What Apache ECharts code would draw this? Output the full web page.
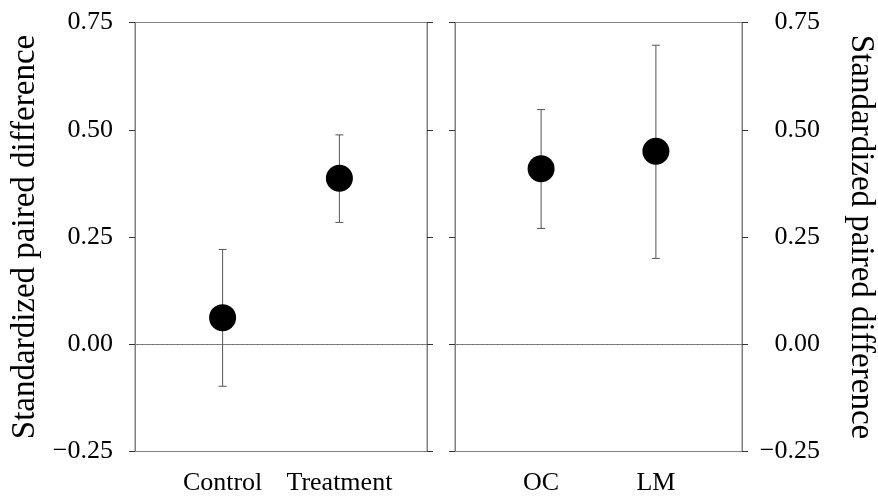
<!DOCTYPE html>
<html><head><meta charset="utf-8">
<script src="https://cdn.jsdelivr.net/npm/echarts@6/dist/echarts.min.js"></script>
<style>html,body{margin:0;padding:0;background:#fff}#c{width:878px;height:500px}</style>
</head><body><div id="c"></div>
<script>
// Left panel
const leftCats = ['Control', 'Treatment'];
const leftMean = [0.062, 0.387];
const leftLow = [-0.098, 0.284];
const leftHigh = [0.221, 0.488];
// Right panel
const rightCats = ['OC', 'LM'];
const rightMean = [0.409, 0.450];
const rightLow = [0.270, 0.200];
const rightHigh = [0.547, 0.697];
// Axis
const yMin = -0.25, yMax = 0.75, yStep = 0.25;
const refLine = [0];
const yTitle = 'Standardized paired difference';

const FONT = 'Liberation Serif';
const LINE = '#808080';
const TICK = '#333';

function padCats(c) { return ['', c[0], ' ', c[1], '  ']; }

function xAxis(gi, cats) {
  return {
    type: 'category', gridIndex: gi, data: padCats(cats), boundaryGap: true,
    axisLine: { lineStyle: { color: LINE, width: 1 } },
    axisTick: { alignWithLabel: true, length: 5, lineStyle: { color: TICK },
      interval: function (i, v) { return String(v).trim() !== ''; } },
    axisLabel: { interval: 0, margin: 19, fontFamily: FONT, fontSize: 26, color: '#000' },
    splitLine: { show: false }
  };
}
function fmt(v) { return v.toFixed(2).replace('-', '\u2212'); }
function yAxis(gi, pos, labels, name, rot) {
  return {
    type: 'value', gridIndex: gi, position: pos, min: yMin, max: yMax, interval: yStep,
    name: name, nameLocation: 'middle', nameGap: pos === 'left' ? 93 : 102, nameRotate: rot,
    nameTextStyle: { fontFamily: FONT, fontSize: 33, color: '#000' },
    axisLine: { show: true, onZero: false, lineStyle: { color: LINE, width: 1 } },
    axisTick: { show: true, length: 6, lineStyle: { color: TICK } },
    axisLabel: labels ? { show: true, formatter: fmt, fontFamily: FONT, fontSize: 26, color: '#000',
      margin: pos === 'left' ? 22 : 78, align: 'right' } : { show: false },
    splitLine: { show: false }
  };
}

function refSeries(xi, yi) {
  return {
    type: 'custom', xAxisIndex: xi, yAxisIndex: yi, z: 2, silent: true,
    data: refLine.map(v => [0, v]),
    encode: { x: 0, y: 1 },
    renderItem: function (params, api) {
      const cs = params.coordSys;
      const y = Math.round(api.coord([0, api.value(1)])[1]) + 0.5;
      return { type: 'line', shape: { x1: cs.x + 2, y1: y, x2: cs.x + cs.width - 2, y2: y },
        style: { stroke: '#666', lineWidth: 1, lineDash: [1, 4] } };
    }
  };
}

function errSeries(xi, yi, cats, low, high) {
  return {
    type: 'custom', xAxisIndex: xi, yAxisIndex: yi, z: 3,
    data: cats.map((c, i) => [c, low[i], high[i]]),
    encode: { x: 0, y: [1, 2] },
    renderItem: function (params, api) {
      const x = api.value(0);
      const p1 = api.coord([x, api.value(1)]);
      const p2 = api.coord([x, api.value(2)]);
      const w = 4;
      const st = { stroke: '#555', lineWidth: 1 };
      return { type: 'group', children: [
        { type: 'line', shape: { x1: p1[0], y1: p1[1], x2: p2[0], y2: p2[1] }, style: st },
        { type: 'line', shape: { x1: p1[0] - w, y1: p1[1], x2: p1[0] + w, y2: p1[1] }, style: st },
        { type: 'line', shape: { x1: p2[0] - w, y1: p2[1], x2: p2[0] + w, y2: p2[1] }, style: st }
      ] };
    }
  };
}
function ptSeries(xi, yi, cats, mean) {
  return {
    type: 'scatter', xAxisIndex: xi, yAxisIndex: yi, z: 5,
    data: cats.map((c, i) => [c, mean[i]]),
    symbol: 'circle', symbolSize: 27, itemStyle: { color: '#000', opacity: 1 },
    emphasis: { disabled: true }
  };
}

const chart = echarts.init(document.getElementById('c'), null, { renderer: 'canvas' });
chart.setOption({
  animation: false,
  backgroundColor: '#fff',
  grid: [
    { left: 135, right: 451, top: 22.5, bottom: 48.5, show: true, borderColor: LINE, borderWidth: 1 },
    { left: 455, right: 134.7, top: 22.5, bottom: 48.5, show: true, borderColor: LINE, borderWidth: 1 }
  ],
  xAxis: [xAxis(0, leftCats), xAxis(1, rightCats)],
  yAxis: [
    yAxis(0, 'left', true, yTitle, 90),
    yAxis(0, 'right', false, '', 0),
    yAxis(1, 'left', false, '', 0),
    yAxis(1, 'right', true, yTitle, -90)
  ],
  series: [
    refSeries(0, 0),
    errSeries(0, 0, leftCats, leftLow, leftHigh),
    ptSeries(0, 0, leftCats, leftMean),
    refSeries(1, 3),
    errSeries(1, 3, rightCats, rightLow, rightHigh),
    ptSeries(1, 3, rightCats, rightMean)
  ]
});
</script></body></html>
